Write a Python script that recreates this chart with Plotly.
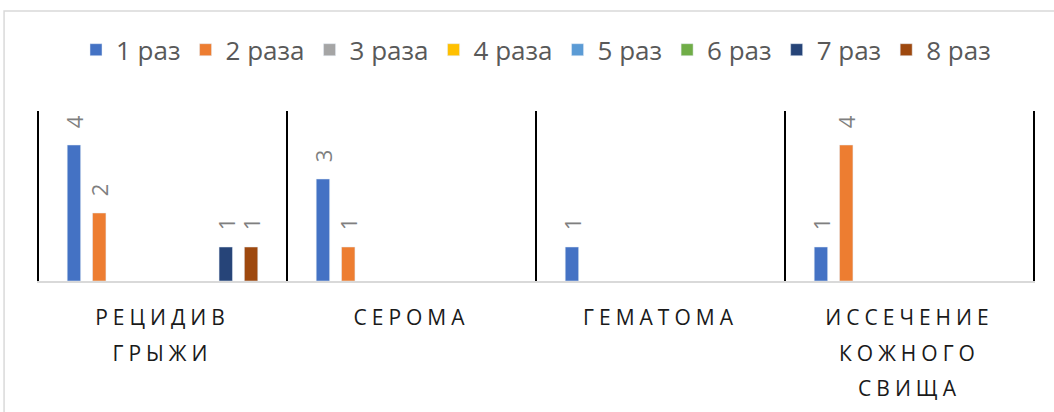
import plotly.graph_objects as go

categories = ["РЕЦИДИВ ГРЫЖИ", "СЕРОМА", "ГЕМАТОМА", "ИССЕЧЕНИЕ КОЖНОГО СВИЩА"]
series_names = ["1 раз", "2 раза", "3 раза", "4 раза", "5 раз", "6 раз", "7 раз", "8 раз"]
s1 = [4, 3, 1, 1]
s2 = [2, 1, None, 4]
s3 = [None, None, None, None]
s4 = [None, None, None, None]
s5 = [None, None, None, None]
s6 = [None, None, None, None]
s7 = [1, None, None, None]
s8 = [1, None, None, None]
series_values = [s1, s2, s3, s4, s5, s6, s7, s8]
colors = ["#4472C4", "#ED7D31", "#A5A5A5", "#FFC000", "#5B9BD5", "#70AD47", "#264478", "#9E480E"]

FONT = "Open Sans, Noto Sans, sans-serif"

fig = go.Figure()
for name, vals, col in zip(series_names, series_values, colors):
    fig.add_trace(go.Bar(
        name=name, x=categories, y=vals, marker_color=col,
        texttemplate="\u00a0\u00a0\u200a%{y}",
        textposition="outside", textangle=-90, constraintext="none",
        textfont=dict(size=22, color="#7F7F7F", family=FONT),
        cliponaxis=False,
    ))

ticktext = [
    "<br>".join(f"<span style='font-size:21px;letter-spacing:5px'>{w}</span>" for w in c.split(" "))
    for c in categories
]

fig.update_layout(
    width=1054, height=412,
    margin=dict(l=37, r=19, t=111, b=131),
    paper_bgcolor="white", plot_bgcolor="white",
    barmode="group", bargap=0.187, bargroupgap=0.47,
    font=dict(family=FONT, color="#404040"),
    legend=dict(orientation="h", x=0.5, xanchor="center", y=1.36, yanchor="middle",
                font=dict(size=26, color="#595959", family=FONT), itemclick=False),
    showlegend=True,
)
fig.update_xaxes(
    type="category", tickmode="array", tickvals=categories, ticktext=ticktext,
    showgrid=False, automargin=False,
    showline=True, linecolor="#D9D9D9", linewidth=2, ticks="",
    tickfont=dict(size=27, color="#1a1a1a", family=FONT),
    ticklabelstandoff=10,
)
fig.update_yaxes(range=[0, 5], showticklabels=False, showgrid=False, zeroline=False,
                 showline=False, automargin=False)

# category boundary lines
for i in range(len(categories) + 1):
    fig.add_shape(type="line", xref="x", yref="paper", x0=i - 0.5, x1=i - 0.5, y0=0, y1=1,
                  line=dict(color="black", width=2))

fig.add_shape(type="rect", xref="paper", yref="paper", x0=-0.033, x1=1.2, y0=-1.2, y1=1.588,
              line=dict(color="#D9D9D9", width=1.5), fillcolor="rgba(0,0,0,0)", layer="below")

fig.write_html("out.html", post_script="document.body.style.margin='0';",
               config={"displayModeBar": False})
